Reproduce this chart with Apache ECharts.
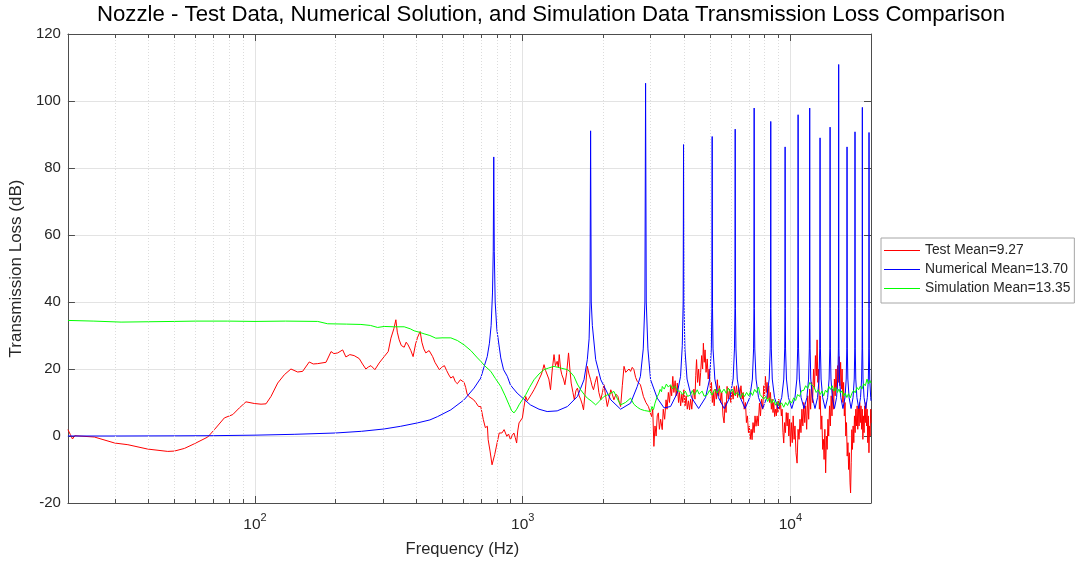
<!DOCTYPE html>
<html><head><meta charset="utf-8">
<script src="https://cdn.jsdelivr.net/npm/echarts@6/dist/echarts.min.js"></script>
<style>html,body{margin:0;padding:0;background:#fff}#c{width:1081px;height:565px}</style>
</head><body><div id="c"></div>
<script>
const titleText = 'Nozzle - Test Data, Numerical Solution, and Simulation Data Transmission Loss Comparison';
const xName = 'Frequency (Hz)';
const yName = 'Transmission Loss (dB)';
const seriesNames = ['Test Mean=9.27', 'Numerical Mean=13.70', 'Simulation Mean=13.35'];
const seriesColors = ['#ff0000', '#0000ff', '#00ff00'];
const xMin = 20, xMax = 20000;
const yMin = -20, yMax = 120, yStep = 20;
const minorFreqs = [30,40,50,60,70,80,90,200,300,400,500,600,700,800,900,2000,3000,4000,5000,6000,7000,8000,9000];

// Test data (red) [Hz, dB]
const testData = [
[20,1.9],[20.4,0.5],[20.8,-0.9],[21.2,0.1],[22,0.0],[25.1,-0.3],[29.9,-2.1],[33.5,-2.6],[39.7,-3.9],[47.2,-4.6],[50,-4.5],[54.5,-3.7],[59.4,-2.3],[66.6,-0.3],[70.5,1.9],[76.8,5.4],[82.6,6.4],[87.4,8.4],[92.5,10.2],[99.4,9.7],[105.3,9.5],[109.9,9.6],[114.7,11.8],[121.5,15.8],[128.7,18.3],[136.2,20.0],[144.3,19.1],[150.6,19.3],[159.4,22.1],[165,21.5],[171.4,21.6],[184.1,22.0],[192.3,25.2],[197,24.6],[203.7,24.8],[212.5,25.7],[218.5,23.6],[226,24.3],[234.6,24.0],[245.1,23.1],[252,21.5],[259.4,20.0],[265,20.6],[271,21.0],[280.4,19.8],[290.9,21.8],[303.7,23.7],[314.4,25.2],[321.8,29.2],[330,32],[335.8,34.7],[340,31],[345.5,28.7],[352,27.0],[360.7,26.5],[367,28],[373.1,27.2],[382,25.5],[389.5,23.7],[398,27.5],[405,29.5],[413.8,31.2],[420,28],[427,26],[434.5,24.8],[447,25.5],[460.8,23.7],[470,22],[478,21.5],[488.2,19.8],[498,20.5],[509.8,21.0],[520,19.5],[530,18.2],[538.6,17.3],[550,17.8],[560,16.2],[569.9,15.6],[585,16.8],[603.9,16.0],[612,14.5],[620,12.5],[629.4,11.8],[640,12.3],[655.9,10.8],[668,10],[683.7,8.8],[697,8.8],[712.6,4.9],[725,2.5],[738,2.9],[742.8,-1.1],[755,-4.5],[768,-8.6],[775,-8.6],[786,-5.5],[794,-5.1],[805,-1.5],[817,0.9],[836,0.9],[852,1.9],[865,1.7],[872,-0.1],[885,0.6],[900,-1.1],[913,0.2],[927,0.9],[938,-0.5],[949,-2.1],[958,1.5],[968.7,3.9],[983,4.2],[997,5.4],[1010,8.5],[1026,11.8],[1040,10.5],[1055,10.8],[1078,12.5],[1102,13.8],[1125,15.2],[1149,16.8],[1175,18.5],[1190,20],[1201,21.3],[1218,19.5],[1234,19.8],[1252,17],[1270,13.8],[1290,20],[1309,24.3],[1325,21],[1345,22.3],[1358,20.5],[1369,24.3],[1385,20],[1400,18.3],[1420,17],[1437,15.3],[1460,19],[1483,24.8],[1500,20],[1517,15.8],[1540,13],[1559,10.8],[1580,13.5],[1601,14.3],[1625,12],[1648,10.8],[1668,9.5],[1687,7.8],[1715,14],[1743,20.8],[1768,18.5],[1793,16.8],[1815,15],[1838,13.8],[1865,16],[1893,17.8],[1925,13],[1957,10.8],[1985,13],[2011,15.3],[2040,12],[2070,8.8],[2100,11],[2133,13.8],[2160,12.5],[2191,10.8],[2230,12.5],[2268,11.8],[2295,10],[2321,8.8],[2355,15],[2390,20.8],[2425,19],[2462,18.8],[2495,20],[2529,19.3],[2565,20.5],[2602,19.8],[2640,17.5],[2679,16.3],[2707,15.8],[2752,15.3],[2790,13.5],[2824,11.8],[2885,10],[2948,8.8],
[2990,9],[3028,5.8],[3060,8],[3090,-3.1],[3120,3],[3150,0],[3180,6],[3211,6.9],[3240,2],[3275,5],[3320,1.9],[3350,8],[3390,5],[3431,10.8],[3460,8],[3500,13],[3534,10],[3570,15],[3600,12],[3636,17.8],[3670,13],[3710,16.5],[3743,12],[3780,15.8],[3820,10],[3852,13],[3890,9],[3930,12.5],[3963,10],[4000,13.8],[4040,9],[4079,12],[4120,8],[4160,10.5],[4200,7.8],[4240,11],[4280,8],[4323,12],[4360,14],[4400,11],[4430,18],[4460,22.8],[4500,16],[4540,20],[4582,15],[4620,19],[4660,24],[4700,20],[4730,27.7],[4765,22],[4800,25.7],[4840,19],[4889,23],[4930,17],[4970,20],[5033,13],[5070,16],[5110,10],[5150,13],[5190,9],[5240,14],[5290,11],[5334,16.8],[5380,12],[5430,15],[5490,10],[5540,13],[5600,6],[5652,3.9],[5700,10],[5750,7],[5800,14.8],[5860,11],[5920,14],[5990,10],[6050,13.5],[6110,11],[6166,14.8],[6230,12],[6290,15],[6348,11.5],[6410,14.5],[6470,12],[6535,15],[6600,11],[6660,13],[6720,8],[6795,10],[6850,4],[6910,6],[6970,1],[7018,3],[7080,-1],[7134,2],[7190,-1.1],[7250,4],[7320,1],[7375,6],[7440,2.9],[7510,6],[7580,3],[7661,9.8],[7730,6],[7800,11],[7880,8],[7951,15],[8010,12],[8066,17.8],[8130,13],[8180,16],[8240,11],[8299,15],[8360,10],[8420,13],[8490,8],[8545,11],[8610,7],[8670,10],[8730,5.8],[8790,8],[8860,6],[8920,10],[8980,7],[9043,11],[9110,8],[9180,10],[9250,6],[9311,8],[9380,1],[9441,-2.1],[9510,4],[9580,1],[9650,7],[9721,3],[9790,6.9],[9860,0],[9930,5],[10000,-3.1],[10080,4],[10160,-2],[10240,6],[10320,-1],[10400,3],[10490,-5],[10590,-8.1],[10680,2],[10770,-1],[10860,5],[10950,1],[11040,8],[11130,3],[11220,10],[11310,4],[11400,9],[11500,2],[11600,12],[11700,5],[11800,14],[11900,8],[12000,16],[12100,10],[12200,20],[12300,14],[12400,24],[12500,18],[12580,28.7],[12660,16],[12740,20],[12830,8],[12920,12],[13010,2],[13100,6],[13200,-4],[13280,-1],[13360,-7],[13450,2],[13540,-11],[13630,0],[13720,-4],[13810,5],[13900,0],[14000,9],[14100,3],[14200,12],[14300,6],[14400,14],[14500,8],[14600,17],[14700,12],[14800,20],[14900,14],[15000,21],[15100,16],[15200,23.7],[15300,15],[15400,22],[15500,14],[15600,20],[15700,10],[15800,16],[15900,6],[16000,10],[16100,0],[16200,4],[16300,-6],[16400,-2],[16500,-10],[16600,-5],[16700,-14],[16780,-17],[16870,-8],[16960,1.9],[17050,-4],[17150,3],[17250,-2],[17350,6],[17450,1],[17550,8],[17650,3],[17750,9],[17850,2],[17950,8.8],[18050,3],[18150,10],[18250,4],[18350,9],[18450,2],[18550,8],[18650,-1],[18750,6],[18850,1],[18950,9],[19050,4],[19150,10],[19250,3],[19350,8],[19450,-2],[19550,6],[19650,-5],[19750,3],[19850,0],[19950,8],[20000,3.9]
];

// Numerical solution (blue) [Hz, dB]
const numData = [
[20,0],[30,0],[50,0.05],[70,0.1],[100,0.25],[140,0.5],[200,0.9],[250,1.4],[303.7,2.1],[350,2.9],[404,3.9],[450,4.8],[481,5.8],[538.6,7.8],[603.9,10.8],[658,14.3],[697,17.3],[718,20.8],[737,23.7],[751,27.7],[762,33],[771,42.7],[776,55],[779.4,83.3],[783,55],[789,40],[800.6,31.7],[828,23.3],[848,19.8],[876,17.8],[900,15.2],[953,12.8],[1068,9.3],[1150,8.0],[1234,7.3],[1345,7.5],[1469,8.8],[1601,11.8],[1694,16.8],[1743,22.8],[1770,29],[1784,40],[1793,91.1],[1803,40],[1820,33],[1873,22.8],[1957,16.8],[2133,10.8],[2321,8.0],[2529,9.8],[2679,14.8],[2752,17.8],[2820,26],[2860,40],[2877,105.3],[2894,40],[2935,26],[3003,16.8],[3181,11.3],[3372,8.4],[3566,8.8],[3777,12.8],[3887,17.8],[3945,27],[3975,40],[3988,87],[4002,40],[4035,26],[4110,17],[4270,11.5],
[4540,8.2],[4820,11.5],[4990,17],[5065,26],[5088,38],[5102,89.4],[5116,38],[5140,26],[5220,17],[5380,11.5],
[5660,8.2],[5940,11.5],[6110,17],[6180,26],[6205,38],[6219,91.6],[6233,38],[6260,26],[6330,17],[6490,11.5],
[6770,8.2],[7050,11.5],[7210,17],[7285,26],[7307,38],[7321,97.9],[7335,38],[7360,26],[7440,17],[7600,11.5],
[7880,8.2],[8160,11.5],[8330,17],[8405,26],[8430,38],[8444,93.9],[8458,38],[8485,26],[8555,17],[8720,11.5],
[9000,8.2],[9280,11.5],[9445,17],[9520,26],[9541,38],[9555,86.3],[9569,38],[9590,26],[9665,17],[9830,11.5],
[10120,8.2],[10400,11.5],[10570,17],[10645,26],[10670,38],[10684,95.9],[10698,38],[10725,26],[10800,17],[10960,11.5],
[11245,8.2],[11525,11.5],[11690,17],[11765,26],[11791,38],[11805,97.9],[11819,38],[11845,26],[11915,17],[12080,11.5],
[12355,8.2],[12630,11.5],[12790,17],[12865,26],[12889,38],[12903,89],[12917,38],[12945,26],[13020,17],[13195,11.5],
[13485,8.2],[13775,11.5],[13950,17],[14030,26],[14052,38],[14066,92.2],[14080,38],[14105,26],[14175,17],[14340,11.5],
[14605,8.2],[14875,11.5],[15035,17],[15110,26],[15131,38],[15145,110.9],[15159,38],[15185,26],[15260,17],[15425,11.5],
[15710,8.2],[15995,11.5],[16160,17],[16240,26],[16261,38],[16275,86.3],[16289,38],[16315,26],[16390,17],[16565,11.5],
[16850,8.2],[17140,11.5],[17315,17],[17395,26],[17416,38],[17430,90.8],[17444,38],[17470,26],[17545,17],[17715,11.5],
[18000,8.2],[18280,11.5],[18450,17],[18525,26],[18551,38],[18565,98.1],[18579,38],[18605,26],[18675,17],[18840,11.5],
[19110,8.2],[19380,11.5],[19550,17],[19625,26],[19650,38],[19664,90.6],[19678,38],[19705,26],[19780,17],[19950,11.5],[20000,10.5]
];

// Simulation data (green) [Hz, dB]
const simData = [
[20,34.5],[25,34.3],[31.6,34.0],[40,34.1],[50,34.2],[60,34.3],[79.1,34.3],[100,34.2],[130,34.3],[171.4,34.2],[186.7,33.5],[220,33.4],[248.6,33.3],[270,33.0],[287,32.4],[303.7,32.7],[330,32.6],[360.7,32.6],[380,32.0],[392.9,31.4],[410,31.0],[428.2,30.5],[450,30.0],[473.5,29.2],[500,29.3],[538.6,29.3],[570,28.5],[603.9,27.2],[640,25.5],[677.6,23.3],[697,22.3],[720,21.0],[759.8,19.3],[790,17.2],[827.9,14.8],[860,12],[889,9.3],[910,7.5],[928,6.9],[950,8],[968.7,9.3],[1000,11],[1026,12.3],[1060,14.5],[1102,16.8],[1150,18.5],[1201,19.8],[1250,20.3],[1309,20.8],[1350,20.5],[1400,20.2],[1469,19.8],[1510,19],[1554,17.8],[1600,15.5],[1646,13.8],[1700,12.3],[1743,11.3],[1800,10.5],[1873,9.3],[1940,10.5],[2011,11.8],[2100,12.5],[2191,13.3],[2260,11],[2321,9.3],[2420,10],[2529,11.3],[2600,9.5],[2679,8.6],[2750,8],[2850,7.6],
[3003,7.3],[3040,8.8],[3080,7.9],[3120,9.8],[3181,11.8],[3220,12.5],[3260,13.9],[3300,13.2],[3321,14.8],[3380,14.0],[3440,15.5],[3500,14.6],[3566,15.3],[3620,14.1],[3700,15.0],[3780,13.5],[3887,13.3],[3950,12.4],[4050,13.4],[4130,11.8],[4236,12.3],[4300,13.6],[4380,12.2],[4486,13.8],[4560,12.5],[4680,13.4],[4760,11.9],[4889,12.3],[4980,13.6],[5100,12.2],[5200,13.9],[5327,12.8],[5430,14.2],[5530,12.9],[5650,14.0],[5760,12.7],[5860,14.3],[5972,13.1],[6080,14.0],[6200,12.2],[6330,13.0],[6508,11.4],[6620,12.8],[6740,11.8],[6860,13.0],[6980,12.0],[7091,13.2],[7220,12.1],[7350,13.9],[7470,13.0],[7598,14.6],[7700,12.4],[7820,12.9],[7951,11.0],[8080,11.8],[8220,10.3],[8360,11.4],[8500,9.8],[8650,10.9],[8800,9.2],[8950,10.3],[9100,9.0],[9270,9.9],[9441,8.6],[9600,10.0],[9760,9.1],[9930,10.6],[10100,9.8],[10287,11.4],[10460,10.6],[10640,12.4],[10820,11.8],[11000,13.5],[11210,13.6],[11400,15.0],[11600,14.2],[11820,16.0],[12050,15.2],[12260,14.6],[12480,13.0],[12700,13.8],[12920,12.4],[13120,13.4],[13316,12.0],[13520,13.7],[13720,13.0],[13920,14.8],[14101,13.9],[14320,15.0],[14540,13.4],[14760,14.5],[14980,13.0],[15180,14.0],[15369,12.8],[15580,13.5],[15800,11.9],[16020,12.8],[16250,11.5],[16480,12.6],[16748,11.4],[16980,12.8],[17220,13.6],[17460,12.9],[17720,14.5],[17980,13.8],[18250,14.9],[18500,14.0],[18780,15.6],[19050,15.0],[19330,17.0],[19560,15.6],[19800,16.6],[20000,15.8]
];

const FONT = '"Liberation Sans", Arial, Helvetica, sans-serif';
const TXT = '#262626';
const AX = '#4d4d4d';
const minorTickLen = 1.2; // in dB units (~4px)

function isDecade(v) {
  const l = Math.log10(v);
  return Math.abs(l - Math.round(l)) < 1e-6;
}

const minorGridLines = minorFreqs.map(f => ({ xAxis: f }));
const minorTickLines = [];
minorFreqs.forEach(f => {
  minorTickLines.push([{ coord: [f, yMin] }, { coord: [f, yMin + minorTickLen] }]);
  minorTickLines.push([{ coord: [f, yMax] }, { coord: [f, yMax - minorTickLen] }]);
});

const chart = echarts.init(document.getElementById('c'), null, { renderer: 'canvas' });
chart.setOption({
  animation: false,
  backgroundColor: '#ffffff',
  textStyle: { fontFamily: FONT },
  title: {
    text: titleText, left: 551, top: 0, textAlign: 'center',
    padding: [4, 0, 5, 0],
    textStyle: { fontFamily: FONT, fontSize: 22.2, fontWeight: 'normal', color: '#000' }
  },
  legend: {
    data: seriesNames.map((n, i) => ({ name: n, itemStyle: { color: seriesColors[i], borderWidth: 0 } })),
    orient: 'vertical',
    left: 881, top: 238,
    padding: [5, 4, 7, 3],
    itemGap: 4,
    icon: 'path://M0,0L36,0L36,1L0,1Z',
    itemWidth: 36, itemHeight: 1,
    borderColor: '#a6a6a6', borderWidth: 1, borderRadius: 0,
    backgroundColor: '#fff',
    textStyle: { fontFamily: FONT, fontSize: 13.8, color: TXT, lineHeight: 15 }
  },
  grid: { left: 67, right: 210, top: 34, bottom: 62, show: false },
  xAxis: [{
    type: 'log', logBase: 10, min: xMin, max: xMax,
    position: 'bottom',
    name: xName, nameLocation: 'middle', nameGap: 38,
    nameTextStyle: { fontFamily: FONT, fontSize: 16.5, color: TXT, padding: [0, 14, 0, 0] },
    axisLine: { show: true, onZero: false, lineStyle: { color: AX, width: 1 } },
    axisTick: { show: true, inside: true, length: 7, lineStyle: { color: AX } },
    axisLabel: {
      margin: 9,
      formatter: v => isDecade(v) ? '{b|10}{s|' + Math.round(Math.log10(v)) + '}' : '',
      rich: {
        b: { fontFamily: FONT, fontSize: 15.5, color: TXT, padding: [5, 0, 0, 0], verticalAlign: 'bottom' },
        s: { fontFamily: FONT, fontSize: 11, color: TXT, verticalAlign: 'top' }
      }
    },
    splitLine: { show: true, lineStyle: { color: '#e3e3e3', width: 1 } }
  }, {
    type: 'log', logBase: 10, min: xMin, max: xMax,
    position: 'top',
    axisLine: { show: true, onZero: false, lineStyle: { color: AX, width: 1 } },
    axisTick: { show: true, inside: true, length: 7, lineStyle: { color: AX } },
    axisLabel: { show: false },
    splitLine: { show: false }
  }],
  yAxis: [{
    type: 'value', min: yMin, max: yMax, interval: yStep,
    position: 'left',
    name: yName, nameLocation: 'middle', nameGap: 36, nameRotate: 90,
    nameTextStyle: { fontFamily: FONT, fontSize: 17, color: TXT },
    axisLine: { show: true, onZero: false, lineStyle: { color: AX, width: 1 } },
    axisTick: { show: true, inside: true, length: 7, lineStyle: { color: AX } },
    axisLabel: { fontFamily: FONT, fontSize: 15, color: TXT, margin: 7 },
    splitLine: { show: true, lineStyle: { color: '#e3e3e3', width: 1 } }
  }, {
    type: 'value', min: yMin, max: yMax, interval: yStep,
    position: 'right',
    axisLine: { show: true, onZero: false, lineStyle: { color: AX, width: 1 } },
    axisTick: { show: true, inside: true, length: 7, lineStyle: { color: AX } },
    axisLabel: { show: false },
    splitLine: { show: false }
  }],
  series: [
    {
      name: 'minorGrid', type: 'line', data: [], z: 1, silent: true,
      markLine: {
        silent: true, symbol: ['none', 'none'], label: { show: false }, animation: false,
        lineStyle: { color: '#dcdcdc', width: 1, type: [1, 2] },
        data: minorGridLines
      }
    },
    {
      name: 'minorTicks', type: 'line', data: [], z: 1, silent: true,
      markLine: {
        silent: true, symbol: ['none', 'none'], label: { show: false }, animation: false,
        lineStyle: { color: AX, width: 1, type: 'solid' },
        data: minorTickLines
      }
    },
    {
      name: seriesNames[0], type: 'line', data: testData, showSymbol: false, symbol: 'none',
      lineStyle: { color: seriesColors[0], width: 1 }, itemStyle: { color: seriesColors[0] }, z: 3
    },
    {
      name: seriesNames[1], type: 'line', data: numData, showSymbol: false, symbol: 'none',
      lineStyle: { color: seriesColors[1], width: 1 }, itemStyle: { color: seriesColors[1] }, z: 4
    },
    {
      name: seriesNames[2], type: 'line', data: simData, showSymbol: false, symbol: 'none',
      lineStyle: { color: seriesColors[2], width: 1 }, itemStyle: { color: seriesColors[2] }, z: 5
    }
  ]
});
</script>
</body></html>
